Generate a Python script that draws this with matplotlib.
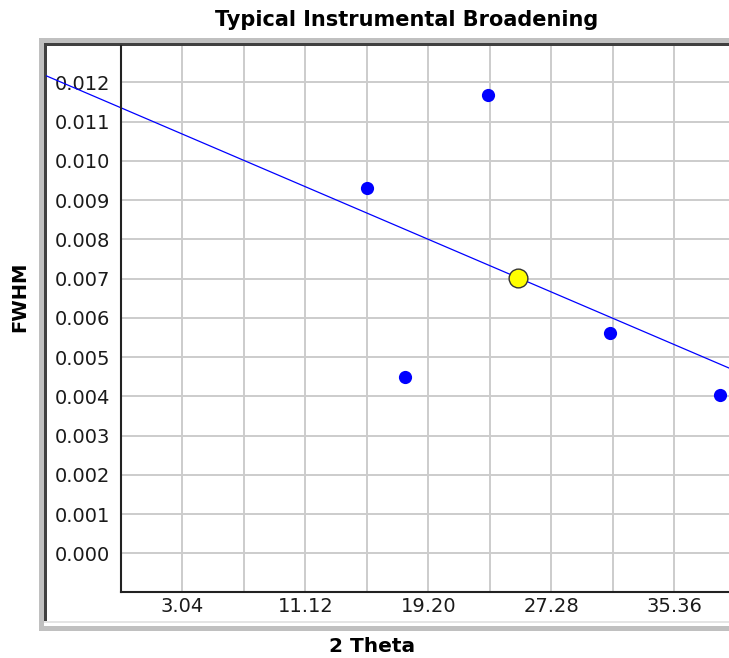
import numpy as np
import matplotlib
matplotlib.use("Agg")
import matplotlib.pyplot as plt
from matplotlib.patches import Rectangle

# measured peaks: 2 theta vs FWHM
theta = [15.15, 17.67, 23.09, 31.15, 38.34]
fwhm = [0.00930, 0.00450, 0.01167, 0.00561, 0.00403]

x_major = [3.04, 11.12, 19.20, 27.28, 35.36]
x_labels = ['3.04', '11.12', '19.20', '27.28', '35.36']
x_minor = [-1.00, 7.08, 15.16, 23.24, 31.32]
y_ticks = [0.000, 0.001, 0.002, 0.003, 0.004, 0.005, 0.006,
           0.007, 0.008, 0.009, 0.010, 0.011, 0.012]
y_labels = ['%.3f' % v for v in y_ticks]

W, H = 729, 658


def fx(px):
    return px / W


def fy(py):
    # pixel from top -> figure fraction
    return 1 - py / H


fig = plt.figure(figsize=(W / 100, H / 100), dpi=100)

# sunken panel border
def rect(x0, y0, x1, y1, color):
    r = Rectangle((fx(x0), fy(y1)), fx(x1) - fx(x0), fy(y0) - fy(y1),
                  transform=fig.transFigure, facecolor=color,
                  edgecolor='none', zorder=-5)
    fig.add_artist(r)
    return r

rect(39, 38, 800, 631, '#c0c0c0')
rect(44, 43, 800, 622, '#404040')
rect(47, 46, 800, 621, 'white')
rect(44, 621.5, 800, 626, 'white')
rect(44, 621, 800, 622.5, '#e4e4e4')

ax = fig.add_axes([fx(121), fy(592.3), fx(729) - fx(121), fy(46) - fy(592.3)])
ax.set_facecolor('none')
ax.set_xlim(-0.99, 38.95)
ax.set_ylim(-0.000994, 0.012925)

ax.set_xticks(x_major)
ax.set_xticklabels(x_labels)
ax.set_xticks(x_minor, minor=True)
ax.set_yticks(y_ticks)
ax.set_yticklabels(y_labels)
ax.tick_params(which='both', length=0)
ax.tick_params(axis='x', pad=3.5, labelsize=14, colors='#1a1a1a')
ax.tick_params(axis='y', pad=8, labelsize=14, colors='#1a1a1a')
ax.grid(True, which='both', color='#cccccc', linewidth=1.4)
ax.set_axisbelow(True)

for s in ['top', 'right']:
    ax.spines[s].set_visible(False)
for s in ['left', 'bottom']:
    ax.spines[s].set_color('#222222')
    ax.spines[s].set_linewidth(1.5)

# least squares line through the peaks, running across the whole panel
k, b = np.polyfit(theta, fwhm, 1)
x0, x1 = ax.get_xlim()
xs = np.array([x0 - 10, x1 + 5])
fit_line, = ax.plot(xs, k * xs + b, color='#0000ff', linewidth=0.9,
                    zorder=2, clip_on=True)
clip = Rectangle((fx(46), fy(621)), 1, fy(46) - fy(621),
                 transform=fig.transFigure)
fit_line.set_clip_path(clip)

ax.plot(theta, fwhm, 'o', color='#0000ff', markersize=9.5,
        markeredgewidth=0, zorder=3)
ax.plot([np.mean(theta)], [np.mean(fwhm)], 'o', color='#ffff00',
        markeredgecolor='#333333', markeredgewidth=1.0, markersize=13.5,
        zorder=4)

fig.text(fx(407), fy(20), 'Typical Instrumental Broadening',
         ha='center', va='center', fontsize=15, fontweight='bold')
fig.text(fx(372), fy(646), '2 Theta', ha='center', va='center',
         fontsize=14.5, fontweight='bold')
fig.text(fx(20), fy(297), 'FWHM', ha='center', va='center',
         rotation=90, fontsize=14, fontweight='bold')

plt.savefig('out.png', dpi=100)
